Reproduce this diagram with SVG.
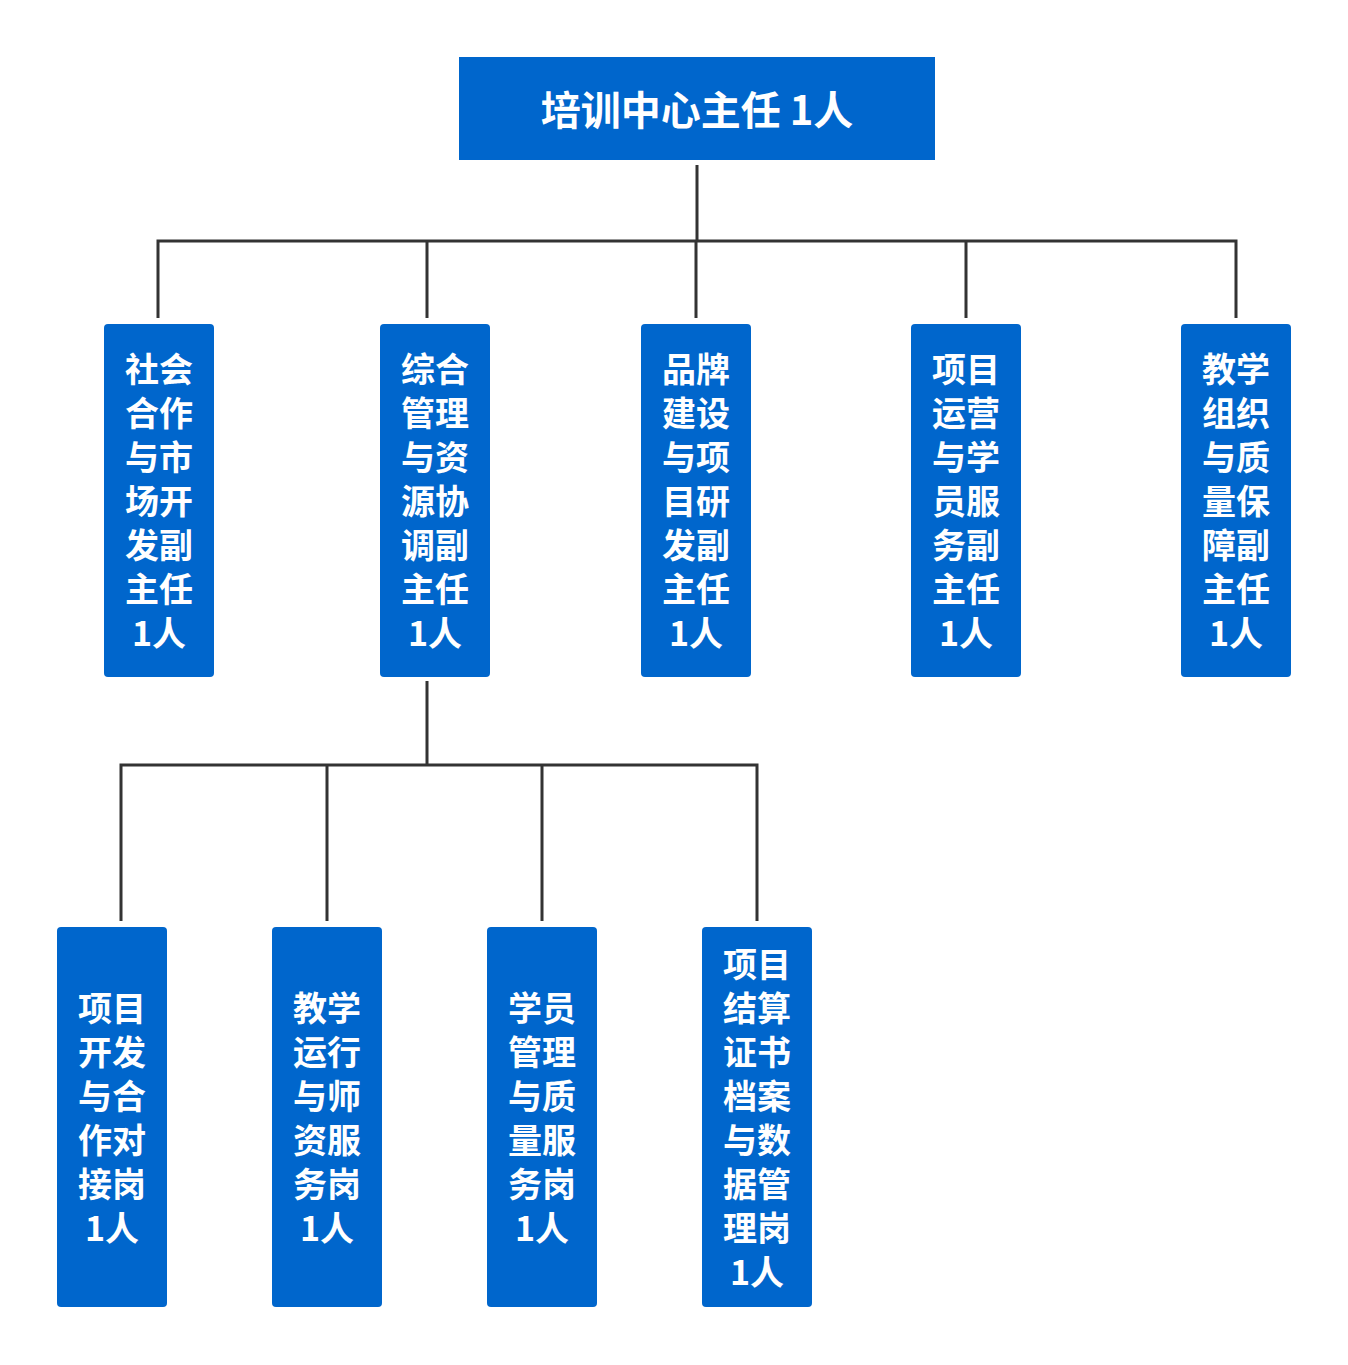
<svg xmlns="http://www.w3.org/2000/svg" width="1348" height="1365" viewBox="0 0 1348 1365">
<style>
.box{fill:#0066CC}
.t{fill:#fff;font-family:"Noto Sans CJK SC","Noto Sans",sans-serif;font-weight:bold;font-size:34px;text-anchor:middle;dominant-baseline:central}
.big{font-size:40px}
.c{stroke:#333;stroke-width:3;fill:none}
</style>
<rect width="1348" height="1365" fill="#fff"/>
<g id="connectors">
<path class="c" d="M697 165V241M158 318V241H1236V318M427 241V318M696 241V318M966 241V318"/>
<path class="c" d="M427 681V765M121 921V765H757V921M327 765V921M542 765V921"/>
</g>
<g id="n0"><rect class="box" x="459" y="57" width="476" height="103"/><text class="t big" x="697" y="108">培训中心主任 1人</text></g>
<g id="n1"><rect class="box" x="104" y="324" width="110" height="353" rx="4"/><text class="t" x="159"><tspan x="159" y="367">社会</tspan><tspan x="159" y="411">合作</tspan><tspan x="159" y="455">与市</tspan><tspan x="159" y="499">场开</tspan><tspan x="159" y="543">发副</tspan><tspan x="159" y="587">主任</tspan><tspan x="159" y="631">1人</tspan></text></g>
<g id="n2"><rect class="box" x="380" y="324" width="110" height="353" rx="4"/><text class="t" x="435"><tspan x="435" y="367">综合</tspan><tspan x="435" y="411">管理</tspan><tspan x="435" y="455">与资</tspan><tspan x="435" y="499">源协</tspan><tspan x="435" y="543">调副</tspan><tspan x="435" y="587">主任</tspan><tspan x="435" y="631">1人</tspan></text></g>
<g id="n3"><rect class="box" x="641" y="324" width="110" height="353" rx="4"/><text class="t" x="696"><tspan x="696" y="367">品牌</tspan><tspan x="696" y="411">建设</tspan><tspan x="696" y="455">与项</tspan><tspan x="696" y="499">目研</tspan><tspan x="696" y="543">发副</tspan><tspan x="696" y="587">主任</tspan><tspan x="696" y="631">1人</tspan></text></g>
<g id="n4"><rect class="box" x="911" y="324" width="110" height="353" rx="4"/><text class="t" x="966"><tspan x="966" y="367">项目</tspan><tspan x="966" y="411">运营</tspan><tspan x="966" y="455">与学</tspan><tspan x="966" y="499">员服</tspan><tspan x="966" y="543">务副</tspan><tspan x="966" y="587">主任</tspan><tspan x="966" y="631">1人</tspan></text></g>
<g id="n5"><rect class="box" x="1181" y="324" width="110" height="353" rx="4"/><text class="t" x="1236"><tspan x="1236" y="367">教学</tspan><tspan x="1236" y="411">组织</tspan><tspan x="1236" y="455">与质</tspan><tspan x="1236" y="499">量保</tspan><tspan x="1236" y="543">障副</tspan><tspan x="1236" y="587">主任</tspan><tspan x="1236" y="631">1人</tspan></text></g>
<g id="n6"><rect class="box" x="57" y="927" width="110" height="380" rx="4"/><text class="t" x="112"><tspan x="112" y="1006">项目</tspan><tspan x="112" y="1050">开发</tspan><tspan x="112" y="1094">与合</tspan><tspan x="112" y="1138">作对</tspan><tspan x="112" y="1182">接岗</tspan><tspan x="112" y="1226">1人</tspan></text></g>
<g id="n7"><rect class="box" x="272" y="927" width="110" height="380" rx="4"/><text class="t" x="327"><tspan x="327" y="1006">教学</tspan><tspan x="327" y="1050">运行</tspan><tspan x="327" y="1094">与师</tspan><tspan x="327" y="1138">资服</tspan><tspan x="327" y="1182">务岗</tspan><tspan x="327" y="1226">1人</tspan></text></g>
<g id="n8"><rect class="box" x="487" y="927" width="110" height="380" rx="4"/><text class="t" x="542"><tspan x="542" y="1006">学员</tspan><tspan x="542" y="1050">管理</tspan><tspan x="542" y="1094">与质</tspan><tspan x="542" y="1138">量服</tspan><tspan x="542" y="1182">务岗</tspan><tspan x="542" y="1226">1人</tspan></text></g>
<g id="n9"><rect class="box" x="702" y="927" width="110" height="380" rx="4"/><text class="t" x="757"><tspan x="757" y="962">项目</tspan><tspan x="757" y="1006">结算</tspan><tspan x="757" y="1050">证书</tspan><tspan x="757" y="1094">档案</tspan><tspan x="757" y="1138">与数</tspan><tspan x="757" y="1182">据管</tspan><tspan x="757" y="1226">理岗</tspan><tspan x="757" y="1270">1人</tspan></text></g>
</svg>
